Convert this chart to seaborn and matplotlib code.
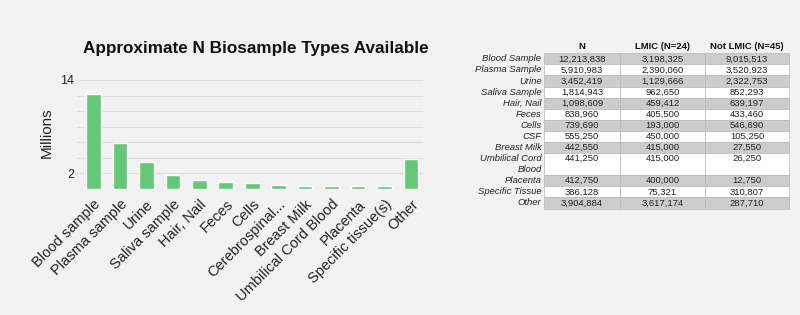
import matplotlib
matplotlib.use("Agg")
import matplotlib.pyplot as plt
import seaborn as sns
import numpy as np
from matplotlib.patches import Rectangle

# ---------------- data ----------------
bar_categories = ["Blood sample", "Plasma sample", "Urine", "Saliva sample", "Hair, Nail",
                  "Feces", "Cells", "Cerebrospinal...", "Breast Milk", "Umbilical Cord Blood",
                  "Placenta", "Specific tissue(s)", "Other"]
row_labels = ["Blood Sample", "Plasma Sample", "Urine", "Saliva Sample", "Hair, Nail",
              "Feces", "Cells", "CSF", "Breast Milk", "Umbilical Cord\nBlood",
              "Placenta", "Specific Tissue", "Other"]
col_headers = ["N", "LMIC (N=24)", "Not LMIC (N=45)"]
n_total = [12213838, 5910983, 3452419, 1814943, 1098609, 838960, 739690,
           555250, 442550, 441250, 412750, 386128, 3904884]
n_lmic = [3198325, 2390060, 1129666, 962650, 459412, 405500, 193000,
          450000, 415000, 415000, 400000, 75321, 3617174]
n_not_lmic = [9015513, 3520923, 2322753, 852293, 639197, 433460, 546690,
              105250, 27550, 26250, 12750, 310807, 287710]
y_ticks = [0, 2, 4, 6, 8, 10, 12, 14]
y_tick_labels = ["", "2", "", "", "", "", "", "14"]

bar_millions = [v / 1e6 for v in n_total]

# ---------------- style ----------------
sns.set_theme(style="white")
plt.rcParams["font.family"] = ["Liberation Sans", "DejaVu Sans"]
BG = "#f2f2f2"
GREEN = "#64c877"

fig = plt.figure(figsize=(8, 3.15), dpi=100, facecolor=BG)
W, H = 800, 315

def ax_rect(x0, y0, x1, y1):
    return [x0 / W, 1 - y1 / H, (x1 - x0) / W, (y1 - y0) / H]

# ---------------- bar chart ----------------
ax = fig.add_axes(ax_rect(77, 80, 423, 189))
ax.set_facecolor(BG)
sns.barplot(x=bar_categories, y=bar_millions, color=GREEN, saturation=1,
            width=0.55, ax=ax, zorder=3)
ax.set_xlim(-0.62, 12.45)
ax.set_ylim(0, 14)
ax.set_yticks(y_ticks)
ax.set_yticklabels(y_tick_labels, fontsize=9, color="#222222")
ax.yaxis.grid(True, color="#dedede", linewidth=0.8, zorder=0)
ax.tick_params(axis="both", length=0)
ax.tick_params(axis="y", pad=2)
ax.set_xticks(range(len(bar_categories)))
ax.set_xticklabels(bar_categories, rotation=45, ha="right", rotation_mode="anchor",
                   fontsize=10.5, color="#222222")
ax.tick_params(axis="x", pad=6)
for s in ax.spines.values():
    s.set_visible(False)
ax.set_xlabel("")
ax.set_ylabel("")

fig.text(256 / W, 1 - 48 / H, "Approximate N Biosample Types Available",
         ha="center", va="center", fontsize=12.3, fontweight="bold", color="#111111")
fig.text(47 / W, 1 - 133 / H, "Millions", rotation=90, ha="center", va="center",
         fontsize=11, color="#222222")

# ---------------- table ----------------
col_edges = [0, 76, 161, 245]
row_units = [2 if "\n" in lab else 1 for lab in row_labels]
total_units = sum(row_units)
tax = fig.add_axes(ax_rect(544, 53.3, 789, 208.5))
tax.set_xlim(0, col_edges[-1])
tax.set_ylim(total_units, 0)
tax.axis("off")

FS = 6.8
cols_vals = [n_total, n_lmic, n_not_lmic]
y0 = 0
for i, (lab, u) in enumerate(zip(row_labels, row_units)):
    fill = "#cccccc" if i % 2 == 0 else "white"
    for c in range(3):
        tax.add_patch(Rectangle((col_edges[c], y0), col_edges[c + 1] - col_edges[c], u,
                                facecolor=fill, edgecolor="#b8b8b8", linewidth=0.5,
                                clip_on=False))
        xc = (col_edges[c] + col_edges[c + 1]) / 2
        tax.text(xc, y0 + 0.5, f"{cols_vals[c][i]:,}", ha="center", va="center",
                 fontsize=FS, color="#222222")
    for k, line in enumerate(lab.split("\n")):
        tax.text(-2.5, y0 + 0.5 + k, line, ha="right", va="center", fontsize=FS,
                 style="italic", color="#222222", clip_on=False)
    y0 += u

for c, hdr in enumerate(col_headers):
    xc = (col_edges[c] + col_edges[c + 1]) / 2
    tax.text(xc, -0.65, hdr, ha="center", va="center", fontsize=FS,
             fontweight="bold", color="#111111", clip_on=False)

fig.savefig("out.png", dpi=100, facecolor=BG)
